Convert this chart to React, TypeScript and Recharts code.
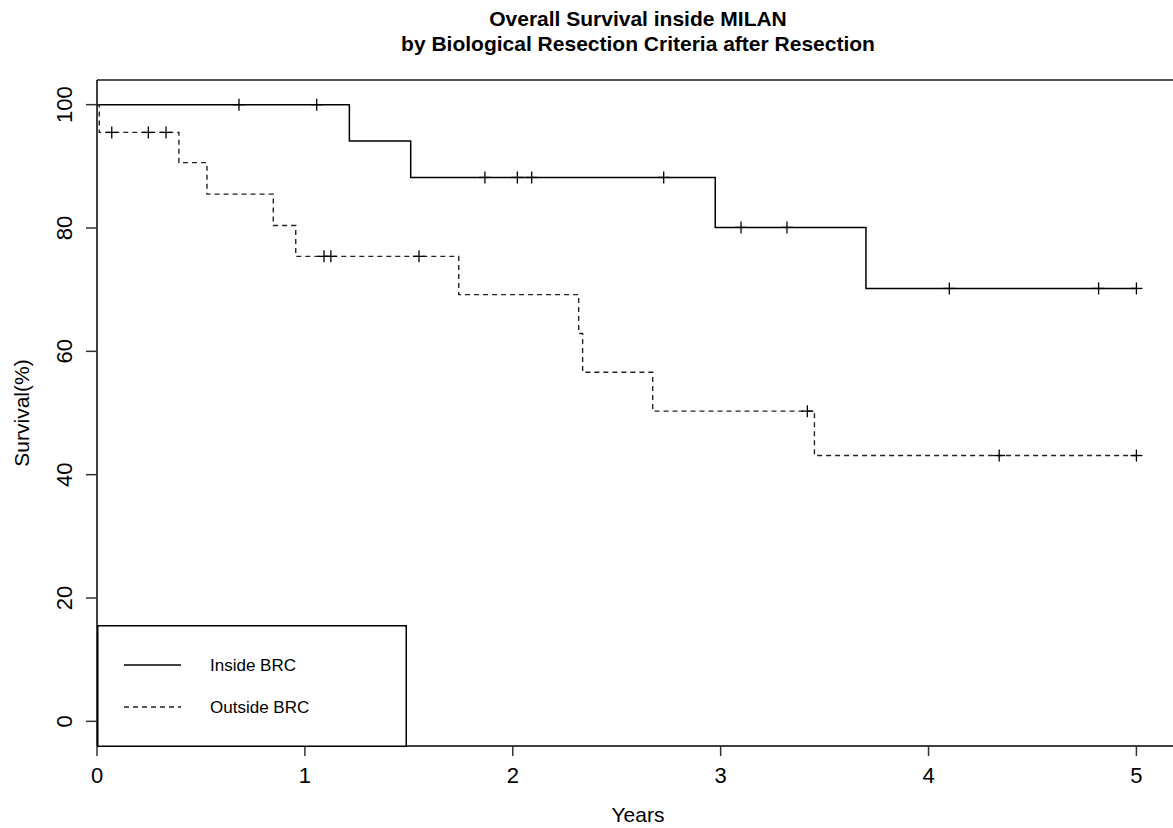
import React from 'react';
import { ComposedChart, Line, Scatter, XAxis, YAxis, ReferenceLine } from 'recharts';

// Kaplan-Meier steps (time in years, survival in %)
const insideTimes = [0, 1.214, 1.509, 2.974, 3.699, 5.0];
const insideSurv = [100, 94.1, 88.2, 80.1, 70.2, 70.2];
const insideCensored = [0.683, 1.057, 1.866, 2.022, 2.091, 2.726, 3.098, 3.319, 4.1, 4.818, 5.0];

const outsideTimes = [0, 0.011, 0.394, 0.529, 0.848, 0.956, 1.74, 2.317, 2.336, 2.673, 3.451, 5.0];
const outsideSurv = [100, 95.5, 90.6, 85.5, 80.4, 75.4, 69.2, 62.9, 56.6, 50.3, 43.1, 43.1];
const outsideCensored = [0.071, 0.247, 0.332, 1.092, 1.125, 1.549, 3.417, 4.34, 5.0];

const xTicks = [0, 1, 2, 3, 4, 5];
const yTicks = [0, 20, 40, 60, 80, 100];

const FONT = '"Liberation Sans", Arial, Helvetica, sans-serif';

const toSteps = (times: number[], surv: number[]) => times.map((t, i) => ({ t, s: surv[i] }));

// survival value of the curve at a censoring time (last step at or before t)
const atCurve = (times: number[], surv: number[], marks: number[]) =>
  marks.map((t) => {
    let s = surv[0];
    times.forEach((tt, i) => {
      if (tt <= t) s = surv[i];
    });
    return { t, s };
  });

const insideData = toSteps(insideTimes, insideSurv);
const outsideData = toSteps(outsideTimes, outsideSurv);
const insideMarks = atCurve(insideTimes, insideSurv, insideCensored);
const outsideMarks = atCurve(outsideTimes, outsideSurv, outsideCensored);

const Cross = (props: any) => {
  const { cx, cy } = props;
  if (cx == null || cy == null) return null;
  return (
    <g stroke="#000" strokeWidth={1.3}>
      <line x1={cx - 6} x2={cx + 6} y1={cy} y2={cy} />
      <line x1={cx} x2={cx} y1={cy - 6} y2={cy + 6} />
    </g>
  );
};

const YTick = (props: any) => {
  const { x, y, payload } = props;
  return (
    <text
      x={x}
      y={y}
      transform={`rotate(-90, ${x}, ${y})`}
      textAnchor="middle"
      fontSize={22}
      fontFamily={FONT}
      fill="#000"
    >
      {payload.value}
    </text>
  );
};

const App: React.FC = () => {
  return (
    <div style={{ position: 'absolute', left: 0, top: 0, width: 1173, height: 828, overflow: 'hidden', background: '#fff', fontFamily: FONT }}>
      {/* title */}
      <div
        style={{
          position: 'absolute',
          left: 97,
          width: 1082,
          top: 6,
          textAlign: 'center',
          fontWeight: 'bold',
          fontSize: 21,
          lineHeight: '25px',
          color: '#000',
        }}
      >
        Overall Survival inside MILAN
        <br />
        by Biological Resection Criteria after Resection
      </div>

      <ComposedChart width={1178} height={828} margin={{ top: 80, right: 0, left: 37, bottom: 22 }}>
        <XAxis
          type="number"
          dataKey="t"
          domain={[0, 5.2]}
          ticks={xTicks}
          allowDataOverflow
          height={60}
          tickSize={10}
          tickMargin={11}
          axisLine={{ stroke: '#000', strokeWidth: 1.5 }}
          tickLine={{ stroke: '#333', strokeWidth: 1.5 }}
          tick={{ fontSize: 22, fontFamily: FONT, fill: '#000' }}
        />
        <YAxis
          type="number"
          domain={[-4, 104]}
          ticks={yTicks}
          allowDataOverflow
          width={60}
          tickSize={11}
          tickMargin={14}
          axisLine={{ stroke: '#000', strokeWidth: 1.5 }}
          tickLine={{ stroke: '#333', strokeWidth: 1.5 }}
          tick={<YTick />}
        />
        <ReferenceLine y={104} stroke="#555" strokeWidth={2} />

        <Line
          data={insideData}
          dataKey="s"
          type="stepAfter"
          stroke="#000"
          strokeWidth={1.5}
          dot={false}
          isAnimationActive={false}
        />
        <Line
          data={outsideData}
          dataKey="s"
          type="stepAfter"
          stroke="#222"
          strokeWidth={1.4}
          strokeDasharray="5 4"
          dot={false}
          isAnimationActive={false}
        />
        <Scatter data={insideMarks} dataKey="s" shape={<Cross />} isAnimationActive={false} />
        <Scatter data={outsideMarks} dataKey="s" shape={<Cross />} isAnimationActive={false} />
      </ComposedChart>

      {/* axis titles */}
      <div
        style={{
          position: 'absolute',
          left: 22,
          top: 413,
          transform: 'translate(-50%, -50%) rotate(-90deg)',
          whiteSpace: 'nowrap',
          fontSize: 21,
          color: '#000',
        }}
      >
        Survival(%)
      </div>
      <div
        style={{
          position: 'absolute',
          left: 638,
          top: 815,
          transform: 'translate(-50%, -50%)',
          whiteSpace: 'nowrap',
          fontSize: 21,
          color: '#000',
        }}
      >
        Years
      </div>

      {/* legend */}
      <svg style={{ position: 'absolute', left: 97, top: 625 }} width={310} height={122}>
        <rect x={0.75} y={0.75} width={308.5} height={120.5} fill="#fff" stroke="#000" strokeWidth={1.5} />
        <line x1={27} x2={84} y1={40} y2={40} stroke="#000" strokeWidth={1.5} />
        <line x1={27} x2={84} y1={82} y2={82} stroke="#222" strokeWidth={1.4} strokeDasharray="5 4" />
        <text x={113} y={40} dominantBaseline="central" fontSize={17} fontFamily={FONT} fill="#000">
          Inside BRC
        </text>
        <text x={113} y={82} dominantBaseline="central" fontSize={17} fontFamily={FONT} fill="#000">
          Outside BRC
        </text>
      </svg>
    </div>
  );
};

export default App;
